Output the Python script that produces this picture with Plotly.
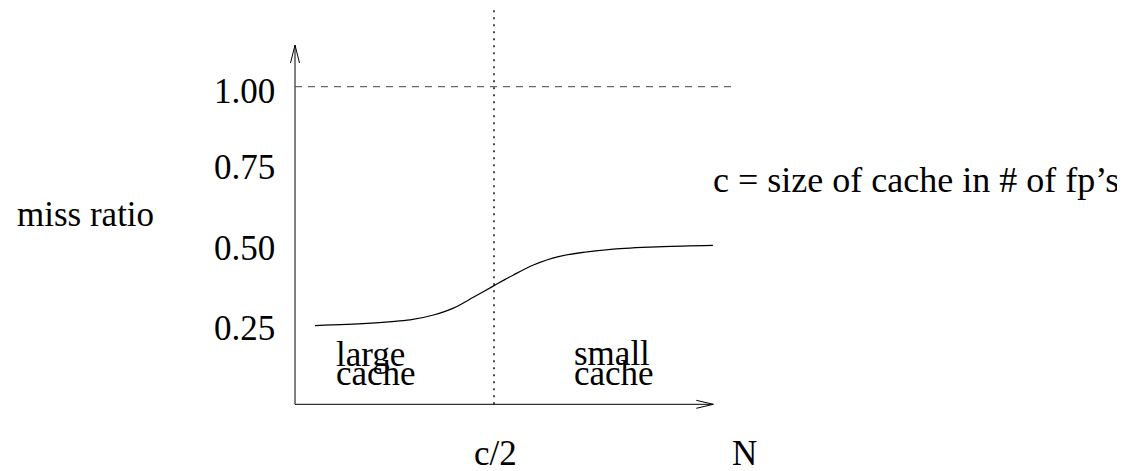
import plotly.graph_objects as go

# ---- data (x in units of N/c, so c/2 = 0.5; y = miss ratio) ----
curve_x = [0.050, 0.180, 0.289, 0.348, 0.398, 0.448, 0.498, 0.549, 0.599, 0.662, 0.799, 0.925, 1.050]
curve_y = [0.231, 0.238, 0.249, 0.265, 0.287, 0.322, 0.358, 0.394, 0.426, 0.453, 0.477, 0.485, 0.489]
y_tick_labels = ["1.00", "0.75", "0.50", "0.25"]
x_tick_labels = ["c/2", "N"]
half_cache_x = 0.5
full_ratio_y = 1.0

W, H = 1125, 471
PAGE_OFF = 8  # default body margin of the html page
FONT = "Liberation Serif"
FS = 35

# screen pixel -> data mapping for the layout frame
X0PX, XSCALE = 295.0, 398.0
Y1PX, YSCALE = 86.7, 310.6


def dx(px):
    return (px - X0PX) / XSCALE


def dy(py):
    return 1.0 - (py - Y1PX) / YSCALE


BASE_OFF = 11.8  # baseline offset from middle of text box

fig = go.Figure()
fig.add_trace(go.Scatter(x=curve_x, y=curve_y, mode="lines",
                         line=dict(color="black", width=1.2, shape="spline", smoothing=0.8),
                         hoverinfo="skip", showlegend=False))

axis_y = dy(404.3)
shapes = [
    # y axis
    dict(type="line", x0=0, x1=0, y0=axis_y, y1=dy(45), line=dict(color="black", width=1)),
    # x axis
    dict(type="line", x0=0, x1=dx(713.3), y0=axis_y, y1=axis_y, line=dict(color="black", width=1)),
    # arrowheads
    dict(type="path", xsizemode="pixel", ysizemode="pixel", xanchor=0, yanchor=dy(45),
         path="M -4.5,-18 L 0,0 L 4.5,-18", line=dict(color="black", width=1)),
    dict(type="path", xsizemode="pixel", ysizemode="pixel", xanchor=dx(713.3), yanchor=axis_y,
         path="M -17,4 L 0,0 L -17,-4", line=dict(color="black", width=1)),
    # dashed line at 1.00
    dict(type="line", x0=0, x1=dx(735), y0=full_ratio_y, y1=full_ratio_y,
         line=dict(color="#444444", width=1, dash="7px,6px")),
    # dotted line at c/2
    dict(type="line", x0=half_cache_x, x1=half_cache_x, y0=axis_y, y1=dy(PAGE_OFF),
         line=dict(color="black", width=1.4, dash="2px,5px")),
]

annotations = []


def txt(text, px, baseline, xanchor, size=FS):
    annotations.append(dict(text=text, x=dx(px), y=dy(baseline - BASE_OFF), xref="x", yref="y",
                            xanchor=xanchor, yanchor="middle", showarrow=False,
                            font=dict(family=FONT, size=size, color="black")))


for lab, base in zip(y_tick_labels, [103.3, 179.0, 260.7, 340.7]):
    txt(lab, 212, base, "left")
txt("miss ratio", 15, 226, "left")
txt("c = size of cache in # of fp’s", 710.5, 192, "left", size=36)
txt(x_tick_labels[0], 495, 465, "center")
txt(x_tick_labels[1], 744, 465, "center")
txt("large", 334, 366, "left")
txt("cache", 334, 385, "left")
txt("small", 572, 365, "left")
txt("cache", 572, 385, "left")

fig.update_layout(
    width=W, height=H,
    margin=dict(l=0, r=0, t=0, b=0),
    paper_bgcolor="white", plot_bgcolor="white",
    xaxis=dict(range=[dx(PAGE_OFF), dx(PAGE_OFF + W)], visible=False, fixedrange=True),
    yaxis=dict(range=[dy(PAGE_OFF + H), dy(PAGE_OFF)], visible=False, fixedrange=True),
    shapes=shapes, annotations=annotations, showlegend=False,
)
fig.write_html("out.html", config={"displayModeBar": False})
